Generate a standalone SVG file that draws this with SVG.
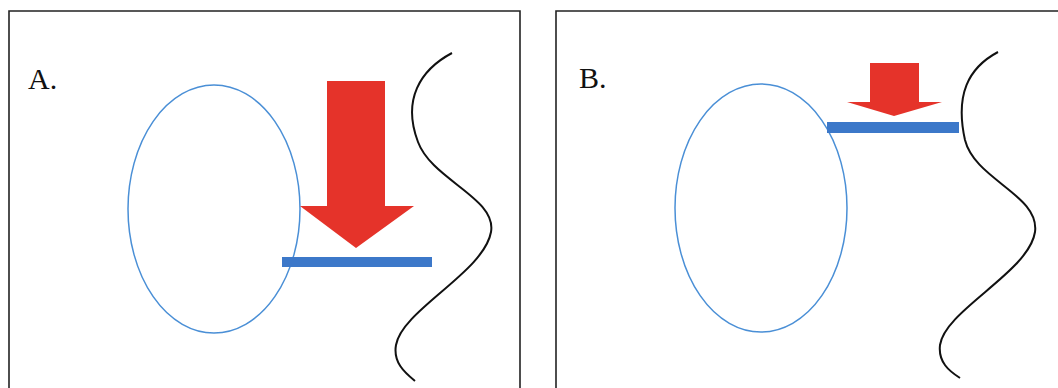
<svg xmlns="http://www.w3.org/2000/svg" width="1058" height="388" viewBox="0 0 1058 388">
<style>
.frame{fill:none;stroke:#222;stroke-width:1.6}
.cell{fill:none;stroke:#4a8fd6;stroke-width:1.5}
.bar{fill:#3c78c9}
.arrow{fill:#e5332a}
.wave{fill:none;stroke:#111;stroke-width:2}
.lbl{font-family:"Liberation Serif",serif;font-size:30px;fill:#111}
</style>
<rect width="1058" height="388" fill="#fff"/>
<g id="panelA">
<path class="frame" d="M9,400 V11 H520 V400"/>
<text class="lbl" x="28" y="89">A.</text>
<ellipse class="cell" cx="214" cy="209" rx="86" ry="124"/>
<path class="arrow" d="M327,81 H385 V206 H414 L356,248 L300,206 H327 Z"/>
<rect class="bar" x="282" y="257" width="150" height="10"/>
<path class="wave" d="M452,53 C420,70 402,100 418,142 C432,180 497,198 491,232 C484,272 402,310 396,345 C393,362 404,372 415,381"/>
</g>
<g id="panelB">
<path class="frame" d="M556,400 V11 H1060"/>
<text class="lbl" x="579" y="88">B.</text>
<ellipse class="cell" cx="761" cy="208" rx="86" ry="124"/>
<path class="arrow" d="M870,63 H919 V102 H942 L894,116 L847,102 H870 Z"/>
<rect class="bar" x="827" y="122" width="132" height="11"/>
<path class="wave" d="M998,52 C968,68 955,95 965,140 C975,180 1040,195 1035,232 C1029,272 945,310 940,345 C938,362 949,371 960,378"/>
</g>
<g id="connectors"></g>
</svg>
